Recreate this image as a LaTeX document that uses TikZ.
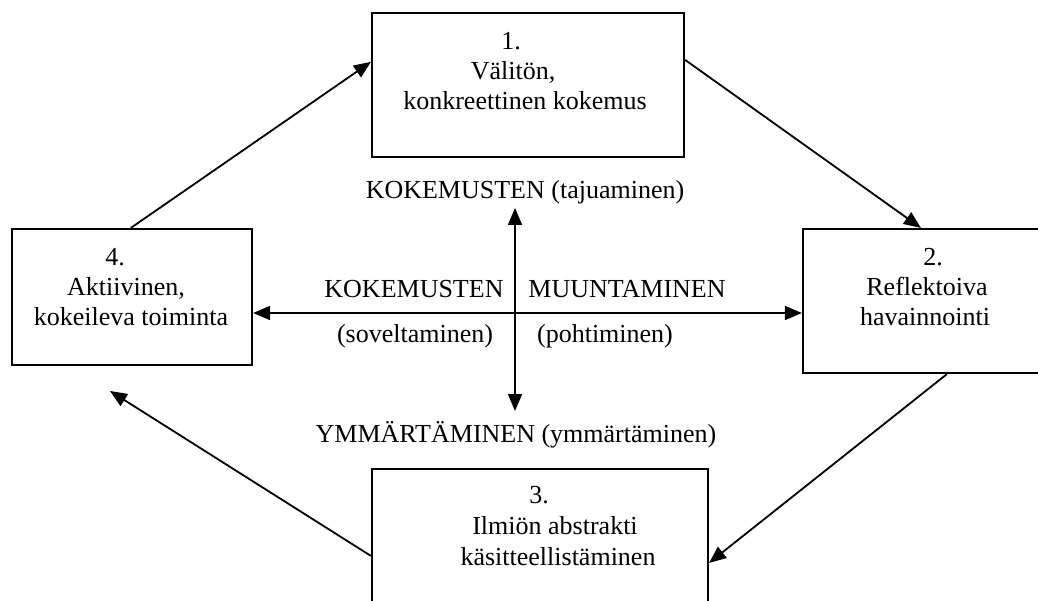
\documentclass[tikz,border=0pt]{standalone}
\usepackage{fontspec}
\setmainfont{Liberation Serif}
\usetikzlibrary{arrows.meta,calc}
\begin{document}
\begin{tikzpicture}[x=1pt,y=-1pt,
  box/.style={draw,line width=2.2pt,rectangle,inner sep=0pt},
  txt/.style={anchor=base,inner sep=0pt,font=\fontsize{26}{30}\selectfont},
  conn/.style={line width=1.8pt,-{Triangle[length=17pt,width=14pt]}},
  biconn/.style={line width=1.8pt,{Triangle[length=17pt,width=14pt]}-{Triangle[length=17pt,width=14pt]}}]
\useasboundingbox (0,0) rectangle (1038,601);
\fill[white] (0,0) rectangle (1038,601);
\clip (0,0) rectangle (1038,601);
% boxes
\node[box,minimum width=312pt,minimum height=144pt] (b1) at (528,85) {};
\node[box,minimum width=248pt,minimum height=144pt] (b2) at (927,301) {};
\node[box,minimum width=336pt,minimum height=142pt] (b3) at (540,540) {};
\node[box,minimum width=240pt,minimum height=136pt] (b4) at (132,297) {};
% box texts
\node[txt] (t1a) at (511,50) {1.};
\node[txt] (t1b) at (513,80) {Välitön,};
\node[txt] (t1c) at (525,110) {konkreettinen kokemus};
\node[txt] (t2a) at (933,266) {2.};
\node[txt] (t2b) at (927,296) {Reflektoiva};
\node[txt] (t2c) at (925,326) {havainnointi};
\node[txt] (t3a) at (539,503) {3.};
\node[txt] (t3b) at (555,534) {Ilmiön abstrakti};
\node[txt] (t3c) at (558,565) {käsitteellistäminen};
\node[txt] (t4a) at (115,266) {4.};
\node[txt] (t4b) at (126,296) {Aktiivinen,};
\node[txt] (t4c) at (131,326) {kokeileva toiminta};
% middle texts
\node[txt] (m1) at (525,199) {KOKEMUSTEN (tajuaminen)};
\node[txt] (m2) at (414,298) {KOKEMUSTEN};
\node[txt] (m3) at (627,298) {MUUNTAMINEN};
\node[txt] (m4) at (415,342) {(soveltaminen)};
\node[txt] (m5) at (605,342) {(pohtiminen)};
\node[txt] (m6) at (516,442) {YMMÄRTÄMINEN (ymmärtäminen)};
% coordinates
\coordinate (mid) at (515,313);
\coordinate (vt) at (515,208);
\coordinate (vb) at (515,411);
\coordinate (c4) at (110,391);
% connectors
\draw[conn] ($(b4.north west)+(120,0)$) -- ($(b1.north west)+(0,50)$);
\draw[conn] ($(b1.north east)+(0,48)$) -- ($(b2.north west)+(119,0)$);
\draw[conn] ($(b2.south west)+(145,0)$) -- ($(b3.north east)+(0,95)$);
\draw[conn] ($(b3.north west)+(0,88)$) -- (c4);
\draw[biconn] (b4.east |- mid) -- (b2.west |- mid);
\draw[biconn] (vt) -- (vb);
\end{tikzpicture}
\end{document}
